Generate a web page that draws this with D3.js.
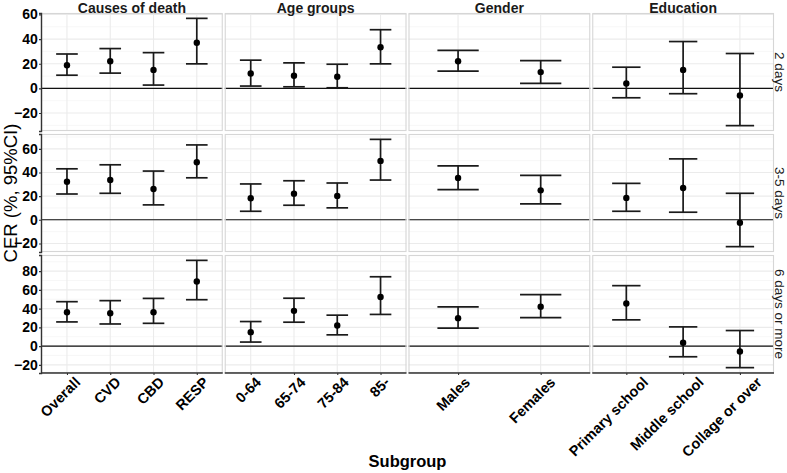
<!DOCTYPE html>
<html><head><meta charset="utf-8">
<script src="https://cdn.jsdelivr.net/npm/d3@7/dist/d3.min.js"></script>
<style>
html,body{margin:0;padding:0;background:#fff;}
svg text{font-family:"Liberation Sans",Arial,sans-serif;}
</style></head>
<body><svg id="chart" width="787" height="473"></svg>
<script>
// ---- data ----
const groups = ["Causes of death", "Age groups", "Gender", "Education"];
const groupCategories = [
  ["Overall", "CVD", "CBD", "RESP"],
  ["0-64", "65-74", "75-84", "85-"],
  ["Males", "Females"],
  ["Primary school", "Middle school", "Collage or over"]
];
const durations = ["2 days", "3-5 days", "6 days or more"];
// values listed in order of all subgroups (13 per duration)
const estimate2d = [18.8, 22.0, 15.0, 37.0, 12.1, 10.2, 9.4, 33.4, 22.0, 13.2, 4.0, 15.0, -5.7];
const lower2d    = [10.7, 12.4, 2.7, 19.9, 1.9, 1.3, 0.5, 19.9, 14.0, 4.0, -7.6, -4.3, -30.2];
const upper2d    = [27.9, 32.3, 29.0, 56.8, 22.9, 20.7, 19.6, 47.6, 30.9, 22.6, 17.2, 38.0, 28.3];
const estimate35d = [32.2, 33.6, 26.0, 48.7, 18.2, 22.1, 20.2, 49.8, 35.3, 24.9, 18.5, 26.9, -2.5];
const lower35d    = [21.8, 22.4, 12.6, 35.5, 7.2, 12.3, 10.1, 33.6, 25.5, 13.4, 7.2, 6.4, -22.7];
const upper35d    = [43.1, 46.5, 41.2, 63.3, 30.3, 33.0, 31.1, 68.0, 45.6, 37.5, 30.8, 51.5, 22.4];
const estimate6d = [36.1, 35.1, 36.1, 68.9, 14.9, 37.6, 21.9, 52.4, 29.8, 42.1, 45.5, 3.5, -5.7];
const lower6d    = [25.8, 23.6, 24.3, 49.5, 4.3, 25.5, 12.0, 33.8, 19.1, 30.4, 28.0, -11.4, -23.0];
const upper6d    = [47.4, 48.5, 50.9, 91.5, 26.2, 51.1, 33.0, 74.0, 41.8, 54.9, 64.5, 20.5, 16.6];
const yTickStep = 20;
const xTitle = "Subgroup";
const yTitle = "CER (%, 95%CI)";

// ---- build table ----
const seriesByDuration = [
  [estimate2d, lower2d, upper2d],
  [estimate35d, lower35d, upper35d],
  [estimate6d, lower6d, upper6d]
];
const rows = [];
durations.forEach((dur, r) => {
  let k = 0;
  groups.forEach((g, c) => {
    groupCategories[c].forEach(cat => {
      const [e, lo, hi] = seriesByDuration[r];
      rows.push({dur, r, g, c, cat, est: e[k], lo: lo[k], hi: hi[k]});
      k++;
    });
  });
});

// ---- layout ----
const svg = d3.select("#chart");
const padL = 41, padR = 774, padT = 13, padB = 373, hgap = 2, vgap = 3;
const pw = (padR - padL - hgap * 3) / 4;
const ph = (padB - padT - vgap * 2) / 3;
const font = '"Liberation Sans",Arial,sans-serif';

const xScales = groups.map((g, c) => {
  const x0 = padL + c * (pw + hgap);
  return d3.scalePoint().domain(groupCategories[c]).range([x0, x0 + pw]).padding(0.6);
});
const yScales = durations.map((d, r) => {
  const sub = rows.filter(o => o.r === r);
  const mn = d3.min(sub, o => o.lo), mx = d3.max(sub, o => o.hi);
  const ex = (mx - mn) * 0.05;
  const y0 = padT + r * (ph + vgap);
  return d3.scaleLinear().domain([mn - ex, mx + ex]).range([y0 + ph, y0]);
});

durations.forEach((dur, r) => {
  const ys = yScales[r];
  const [lo, hi] = ys.domain();
  const major = d3.range(Math.ceil(lo / yTickStep) * yTickStep, hi + 1e-9, yTickStep);
  const minor = d3.range(Math.ceil((lo - yTickStep / 2) / yTickStep) * yTickStep + yTickStep / 2, hi, yTickStep)
    .filter(v => v >= lo && v <= hi);
  groups.forEach((g, c) => {
    const xs = xScales[c];
    const [x0, x1] = xs.range();
    const y0 = ys.range()[1], y1 = ys.range()[0];
    const p = svg.append("g");
    p.append("rect").attr("x", x0).attr("y", y0).attr("width", x1 - x0).attr("height", y1 - y0)
      .attr("fill", "#fff");
    p.selectAll(".mn").data(minor).enter().append("line")
      .attr("x1", x0).attr("x2", x1).attr("y1", d => ys(d)).attr("y2", d => ys(d))
      .attr("stroke", "#f2f2f2").attr("stroke-width", 0.6);
    p.selectAll(".mj").data(major).enter().append("line")
      .attr("x1", x0).attr("x2", x1).attr("y1", d => ys(d)).attr("y2", d => ys(d))
      .attr("stroke", "#ebebeb").attr("stroke-width", 1.1);
    p.selectAll(".vx").data(groupCategories[c]).enter().append("line")
      .attr("x1", d => xs(d)).attr("x2", d => xs(d)).attr("y1", y0).attr("y2", y1)
      .attr("stroke", "#ebebeb").attr("stroke-width", 1.1);
    p.append("line").attr("x1", x0).attr("x2", x1).attr("y1", ys(0)).attr("y2", ys(0))
      .attr("stroke", "#111").attr("stroke-width", 1.1);
    p.append("rect").attr("x", x0 + 0.5).attr("y", y0 + 0.5).attr("width", x1 - x0 - 1).attr("height", y1 - y0 - 1)
      .attr("fill", "none").attr("stroke", "#d6d6d6").attr("stroke-width", 1.1);

    const sub = rows.filter(o => o.r === r && o.c === c);
    const half = xs.step() * 0.25;
    const eb = p.selectAll(".eb").data(sub).enter().append("g");
    eb.append("line").attr("x1", d => xs(d.cat)).attr("x2", d => xs(d.cat))
      .attr("y1", d => ys(d.lo)).attr("y2", d => ys(d.hi))
      .attr("stroke", "#1a1a1a").attr("stroke-width", 1.7);
    eb.append("line").attr("x1", d => xs(d.cat) - half).attr("x2", d => xs(d.cat) + half)
      .attr("y1", d => ys(d.lo)).attr("y2", d => ys(d.lo))
      .attr("stroke", "#1a1a1a").attr("stroke-width", 1.7);
    eb.append("line").attr("x1", d => xs(d.cat) - half).attr("x2", d => xs(d.cat) + half)
      .attr("y1", d => ys(d.hi)).attr("y2", d => ys(d.hi))
      .attr("stroke", "#1a1a1a").attr("stroke-width", 1.7);
    eb.append("circle").attr("cx", d => xs(d.cat)).attr("cy", d => ys(d.est)).attr("r", 3.2)
      .attr("fill", "#000");

    if (c === 0) {
      const ax = svg.append("g").attr("transform", `translate(${x0},0)`)
        .call(d3.axisLeft(ys).tickValues(major).tickSize(2).tickPadding(1.2).tickFormat(d3.format("d")));
      ax.select(".domain").attr("stroke", "#333").attr("stroke-width", 1.4);
      ax.selectAll(".tick line").attr("stroke", "#333").attr("stroke-width", 1.1);
      ax.selectAll("text").attr("font-family", font).attr("font-size", 14)
        .attr("font-weight", "bold").attr("fill", "#000");
    }
    if (r === durations.length - 1) {
      const ax = svg.append("g").attr("transform", `translate(0,${y1})`)
        .call(d3.axisBottom(xs).tickSize(2).tickSizeOuter(0).tickFormat(""));
      ax.select(".domain").attr("stroke", "#333").attr("stroke-width", 1.4)
        .attr("d", `M${x0},0H${x1}`);
      ax.selectAll(".tick line").attr("stroke", "#333").attr("stroke-width", 1.1);
      svg.append("g").selectAll("text").data(groupCategories[c]).enter().append("text")
        .attr("text-anchor", "middle").attr("dy", "0.35em")
        .attr("font-size", 14.5).attr("font-weight", "bold").attr("fill", "#000")
        .text(d => d)
        .each(function(d) {
          const L = this.getComputedTextLength();
          d3.select(this).attr("transform",
            `translate(${xs(d) + 3.3 - 0.203 * L},${379.6 + 0.354 * L}) rotate(-45)`);
        });
    }
  });
  const yc = (yScales[r].range()[0] + yScales[r].range()[1]) / 2;
  svg.append("text").attr("transform", `translate(${padR + 0.6},${yc}) rotate(90)`)
    .attr("text-anchor", "middle").attr("font-size", 13.5).attr("fill", "#1a1a1a").text(dur);
});

groups.forEach((g, c) => {
  const [x0, x1] = xScales[c].range();
  svg.append("text").attr("x", (x0 + x1) / 2).attr("y", 12.7).attr("text-anchor", "middle")
    .attr("font-size", 14).attr("font-weight", "bold").attr("fill", "#1a1a1a").text(g);
});

svg.append("text").attr("x", (padL + padR) / 2).attr("y", 467).attr("text-anchor", "middle")
  .attr("font-size", 16.5).attr("font-weight", "bold").attr("fill", "#000").text(xTitle);
svg.append("text").attr("transform", `translate(17,${(padT + padB) / 2}) rotate(-90)`)
  .attr("text-anchor", "middle").attr("font-size", 18.5).attr("fill", "#000").text(yTitle);
</script></body></html>
